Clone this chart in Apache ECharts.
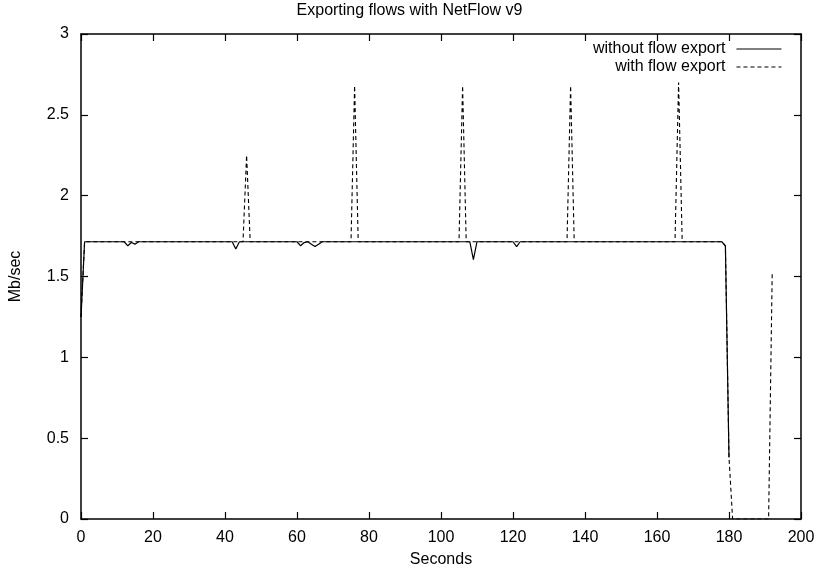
<!DOCTYPE html>
<html>
<head>
<meta charset="utf-8">
<script src="https://cdn.jsdelivr.net/npm/echarts@6/dist/echarts.min.js"></script>
<style>
  html, body { margin: 0; padding: 0; background: #ffffff; }
  #chart { width: 819px; height: 567px; }
</style>
</head>
<body>
<div id="chart"></div>
<script>
// Texts
const chartTitle = 'Exporting flows with NetFlow v9';
const xAxisName = 'Seconds';
const yAxisName = 'Mb/sec';
const seriesNames = ['without flow export', 'with flow export'];

// Axis ticks
const xTicks = [0, 20, 40, 60, 80, 100, 120, 140, 160, 180, 200];
const yTicks = [0, 0.5, 1, 1.5, 2, 2.5, 3];

// Throughput per second (Mb/sec), sample i is second i
const withoutExport = [
  1.25, 1.715, 1.715, 1.715, 1.715, 1.715, 1.715, 1.715, 1.715, 1.715,
  1.715, 1.715, 1.715, 1.69, 1.71, 1.70, 1.715, 1.715, 1.715, 1.715,
  1.715, 1.715, 1.715, 1.715, 1.715, 1.715, 1.715, 1.715, 1.715, 1.715,
  1.715, 1.715, 1.715, 1.715, 1.715, 1.715, 1.715, 1.715, 1.715, 1.715,
  1.715, 1.715, 1.715, 1.67, 1.715, 1.715, 1.715, 1.715, 1.715, 1.715,
  1.715, 1.715, 1.715, 1.715, 1.715, 1.715, 1.715, 1.715, 1.715, 1.715,
  1.715, 1.69, 1.71, 1.715, 1.70, 1.685, 1.70, 1.715, 1.715, 1.715,
  1.715, 1.715, 1.715, 1.715, 1.715, 1.715, 1.715, 1.715, 1.715, 1.715,
  1.715, 1.715, 1.715, 1.715, 1.715, 1.715, 1.715, 1.715, 1.715, 1.715,
  1.715, 1.715, 1.715, 1.715, 1.715, 1.715, 1.715, 1.715, 1.715, 1.715,
  1.715, 1.715, 1.715, 1.715, 1.715, 1.715, 1.715, 1.715, 1.715, 1.605,
  1.715, 1.715, 1.715, 1.715, 1.715, 1.715, 1.715, 1.715, 1.715, 1.715,
  1.715, 1.685, 1.715, 1.715, 1.715, 1.715, 1.715, 1.715, 1.715, 1.715,
  1.715, 1.715, 1.715, 1.715, 1.715, 1.715, 1.715, 1.715, 1.715, 1.715,
  1.715, 1.715, 1.715, 1.715, 1.715, 1.715, 1.715, 1.715, 1.715, 1.715,
  1.715, 1.715, 1.715, 1.715, 1.715, 1.715, 1.715, 1.715, 1.715, 1.715,
  1.715, 1.715, 1.715, 1.715, 1.715, 1.715, 1.715, 1.715, 1.715, 1.715,
  1.715, 1.715, 1.715, 1.715, 1.715, 1.715, 1.715, 1.715, 1.715, 1.69,
  0.38
];

const withExport = [
  1.25, 1.715, 1.715, 1.715, 1.715, 1.715, 1.715, 1.715, 1.715, 1.715,
  1.715, 1.715, 1.715, 1.715, 1.715, 1.715, 1.715, 1.715, 1.715, 1.715,
  1.715, 1.715, 1.715, 1.715, 1.715, 1.715, 1.715, 1.715, 1.715, 1.715,
  1.715, 1.715, 1.715, 1.715, 1.715, 1.715, 1.715, 1.715, 1.715, 1.715,
  1.715, 1.715, 1.715, 1.715, 1.715, 1.715, 2.25, 1.715, 1.715, 1.715,
  1.715, 1.715, 1.715, 1.715, 1.715, 1.715, 1.715, 1.715, 1.715, 1.715,
  1.715, 1.715, 1.715, 1.715, 1.715, 1.715, 1.715, 1.715, 1.715, 1.715,
  1.715, 1.715, 1.715, 1.715, 1.715, 1.715, 2.68, 1.715, 1.715, 1.715,
  1.715, 1.715, 1.715, 1.715, 1.715, 1.715, 1.715, 1.715, 1.715, 1.715,
  1.715, 1.715, 1.715, 1.715, 1.715, 1.715, 1.715, 1.715, 1.715, 1.715,
  1.715, 1.715, 1.715, 1.715, 1.715, 1.715, 2.68, 1.715, 1.715, 1.715,
  1.715, 1.715, 1.715, 1.715, 1.715, 1.715, 1.715, 1.715, 1.715, 1.715,
  1.715, 1.715, 1.715, 1.715, 1.715, 1.715, 1.715, 1.715, 1.715, 1.715,
  1.715, 1.715, 1.715, 1.715, 1.715, 1.715, 2.68, 1.715, 1.715, 1.715,
  1.715, 1.715, 1.715, 1.715, 1.715, 1.715, 1.715, 1.715, 1.715, 1.715,
  1.715, 1.715, 1.715, 1.715, 1.715, 1.715, 1.715, 1.715, 1.715, 1.715,
  1.715, 1.715, 1.715, 1.715, 1.715, 1.715, 2.70, 1.715, 1.715, 1.715,
  1.715, 1.715, 1.715, 1.715, 1.715, 1.715, 1.715, 1.715, 1.715, 1.69,
  0.38, 0, 0, 0, 0, 0, 0, 0, 0, 0,
  0, 0, 1.52
];

const FONT = "'Liberation Sans', Arial, Helvetica, sans-serif";
const FONT_SIZE = 16;
const INK = '#000000';

const toPoints = (vals) => vals.map((v, i) => [i, v]);

const xRange = { min: xTicks[0], max: xTicks[xTicks.length - 1], interval: xTicks[1] - xTicks[0] };
const yRange = { min: yTicks[0], max: yTicks[yTicks.length - 1], interval: yTicks[1] - yTicks[0] };

// Frame: all four sides drawn, ticks pointing inward
const axisLine = { show: true, onZero: false, lineStyle: { color: INK, width: 1.5 } };
const axisTick = { show: true, inside: true, length: 7, lineStyle: { color: INK, width: 1.2 } };
const labelStyle = { color: INK, fontFamily: FONT, fontSize: FONT_SIZE };

const legendBase = {
  orient: 'vertical',
  right: 37,
  align: 'right',
  padding: 0,
  itemWidth: 45,
  itemHeight: 14,
  itemStyle: { color: 'rgba(0,0,0,0)', borderWidth: 0, opacity: 0 },
  lineStyle: { width: 1.1 },
  textStyle: { color: INK, fontFamily: FONT, fontSize: FONT_SIZE, padding: [0, 6, 0, 0] },
  selectedMode: false
};

const chart = echarts.init(document.getElementById('chart'), null, { renderer: 'canvas' });

chart.setOption({
  animation: false,
  backgroundColor: '#ffffff',
  title: {
    text: chartTitle,
    left: 'center',
    top: 3,
    padding: 0,
    textStyle: { color: INK, fontFamily: FONT, fontSize: FONT_SIZE, fontWeight: 'normal' }
  },
  legend: [
    Object.assign({}, legendBase, { data: [seriesNames[0]], top: 41 }),
    Object.assign({}, legendBase, { data: [seriesNames[1]], top: 59 })
  ],
  grid: {
    left: 81, right: 18, top: 34, bottom: 48,
    containLabel: false,
    outerBoundsMode: 'none'
  },
  xAxis: [
    {
      type: 'value', position: 'bottom', ...xRange,
      name: xAxisName, nameLocation: 'middle', nameGap: 33,
      nameTextStyle: labelStyle,
      axisLine, axisTick, splitLine: { show: false },
      axisLabel: Object.assign({ margin: 11 }, labelStyle)
    },
    {
      type: 'value', position: 'top', ...xRange,
      axisLine, axisTick, splitLine: { show: false },
      axisLabel: { show: false }
    }
  ],
  yAxis: [
    {
      type: 'value', position: 'left', ...yRange,
      name: yAxisName, nameLocation: 'middle', nameGap: 57,
      nameTextStyle: labelStyle,
      axisLine, axisTick, splitLine: { show: false },
      axisLabel: Object.assign({ margin: 12 }, labelStyle)
    },
    {
      type: 'value', position: 'right', ...yRange,
      axisLine, axisTick, splitLine: { show: false },
      axisLabel: { show: false }
    }
  ],
  series: [
    {
      name: seriesNames[1],
      type: 'line',
      xAxisIndex: 0, yAxisIndex: 0,
      symbol: 'none',
      data: toPoints(withExport),
      lineStyle: { color: INK, width: 1.1, type: [4, 3] },
      itemStyle: { color: INK },
      z: 2
    },
    {
      name: seriesNames[0],
      type: 'line',
      xAxisIndex: 0, yAxisIndex: 0,
      symbol: 'none',
      data: toPoints(withoutExport),
      lineStyle: { color: INK, width: 1.2, type: 'solid' },
      itemStyle: { color: INK },
      z: 3
    }
  ]
});
</script>
</body>
</html>
